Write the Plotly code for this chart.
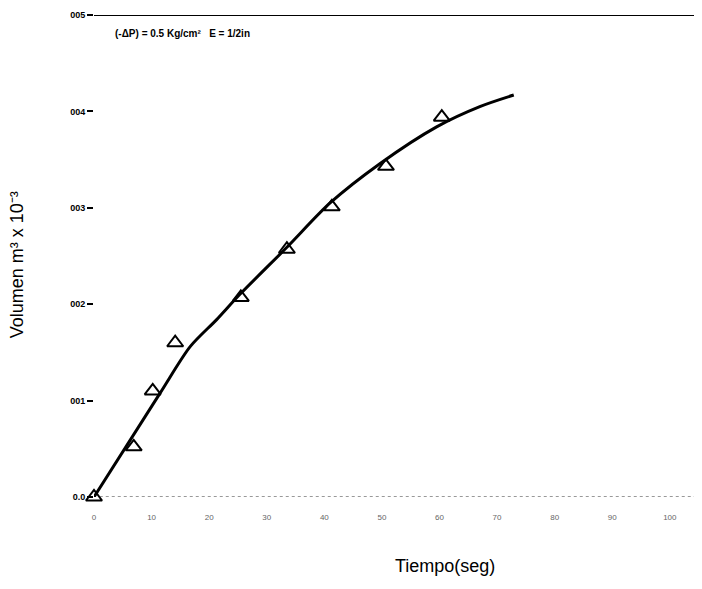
import plotly.graph_objects as go

# Data (Tiempo in s, Volumen in m^3)
t_points = [0, 6.9, 10.2, 14.1, 25.5, 33.5, 41.3, 50.7, 60.4]
v_points = [0.0, 0.00052, 0.0011, 0.0016, 0.00207, 0.00257, 0.00301, 0.00343, 0.00394]

t_curve = [0, 11.5, 16.7, 21.3, 25.3, 33.5, 41.0, 49.7, 59.5, 67.0, 72.9]
v_curve = [0.0, 0.00108, 0.00156, 0.00184, 0.0021, 0.00259, 0.00305, 0.00346, 0.00384,
           0.00405, 0.00417]

x_ticks = [0, 10, 20, 30, 40, 50, 60, 70, 80, 90, 100]
x_ticklabels = ["0", "10", "20", "30", "40", "50", "60", "70", "80", "90", "100"]
y_ticks = [0.0, 0.001, 0.002, 0.003, 0.004, 0.005]
y_ticklabels = ["<b>0.0</b>", "<b>001</b>", "<b>002</b>", "<b>003</b>", "<b>004</b>", "<b>005</b>"]

x_max = 104.2

fig = go.Figure()
fig.add_trace(go.Scatter(x=t_curve, y=v_curve, mode="lines",
                         line=dict(color="black", width=3, shape="spline", smoothing=0.8),
                         cliponaxis=False, showlegend=False))
fig.add_trace(go.Scatter(x=t_points, y=v_points, mode="markers",
                         marker=dict(symbol="triangle-up-open", size=14, color="black",
                                     line=dict(color="black", width=2)),
                         cliponaxis=False, showlegend=False))

# top solid line and bottom dotted line
fig.add_shape(type="line", x0=0, x1=x_max, y0=0.005, y1=0.005, xref="x", yref="y",
              line=dict(color="black", width=2))
fig.add_shape(type="line", x0=1, x1=x_max, y0=0, y1=0, xref="x", yref="y",
              line=dict(color="#333", width=1, dash="dot"))

fig.add_annotation(x=3.3, y=0.00481, xref="x", yref="y", xanchor="left", yanchor="middle",
                   text="<b>(-ΔP) = 0.5 Kg/cm²   E = 1/2in</b>", showarrow=False,
                   font=dict(family="Liberation Sans", size=10, color="black"))

fig.add_annotation(xref="x domain", yref="y domain", x=-0.128, y=0.481, showarrow=False,
                   text="Volumen m³ x 10⁻³", textangle=-90, xanchor="center", yanchor="middle",
                   font=dict(family="Liberation Sans", size=18, color="black"))

fig.add_annotation(xref="x domain", yref="y domain", x=0.585, y=-0.143, showarrow=False,
                   text="Tiempo(seg)", xanchor="center", yanchor="middle",
                   font=dict(family="Liberation Sans", size=18, color="black"))

fig.update_layout(
    width=686, height=573,
    margin=dict(l=86, r=0, t=7, b=84),
    paper_bgcolor="white", plot_bgcolor="white",
    font=dict(family="Liberation Sans"),
    xaxis=dict(range=[0, x_max], tickvals=x_ticks, ticktext=x_ticklabels,
               showgrid=False, zeroline=False, showline=False,
               ticks="outside", ticklen=12, tickcolor="rgba(0,0,0,0)",
               tickfont=dict(size=8, color="#666")),
    yaxis=dict(range=[0, 0.005], tickvals=y_ticks, ticktext=y_ticklabels,
               showgrid=False, zeroline=False, showline=False,
               ticks="outside", ticklen=6, tickcolor="black", tickwidth=1.5,
               tickfont=dict(size=9, color="black")),
)

fig.write_html("out.html")
